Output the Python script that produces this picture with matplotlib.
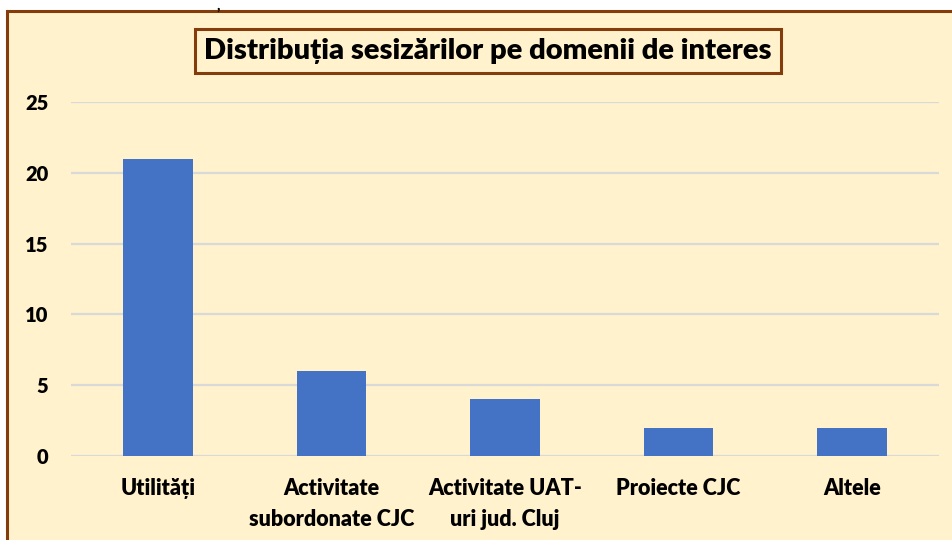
import numpy as np
import matplotlib.pyplot as plt
import matplotlib.patches as patches

# data
categories = ['Utilități', 'Activitate\nsubordonate CJC', 'Activitate UAT-\nuri jud. Cluj',
              'Proiecte CJC', 'Altele']
values = [21, 6, 4, 2, 2]
yticks = [0, 5, 10, 15, 20, 25]

plt.rcParams['font.family'] = ['Lato', 'DejaVu Sans']

W, H = 953, 540
fig = plt.figure(figsize=(W / 100, H / 100), dpi=100, facecolor='white')

# cream panel with brown frame (runs off the right and bottom edges)
panel = patches.Rectangle((7 / W, -0.05), 1.1, 1 - 11 / H + 0.05, transform=fig.transFigure,
                          facecolor='#FFF2CC', edgecolor='#843C0C', linewidth=2.2, zorder=-1)
fig.patches.append(panel)

# stray mark above the frame
fig.text(218 / W, 1 - 6 / H, ',', ha='center', va='center', fontsize=11, fontweight='bold')

ax = fig.add_axes([71.25 / W, 1 - 456 / H, (938.75 - 71.25) / W, (456 - 102) / H])
ax.set_facecolor('none')

x = np.arange(len(categories))
ax.bar(x, values, width=0.4, color='#4472C4', zorder=3)

ax.set_ylim(0, 25)
ax.set_xlim(-0.5, len(categories) - 0.5)
ax.set_yticks(yticks)
ax.set_yticklabels([str(v) for v in yticks], fontsize=14.5, fontweight='heavy')
ax.set_xticks(x)
ax.set_xticklabels(categories, fontsize=15.5, fontweight='heavy', linespacing=1.55)
ax.tick_params(axis='both', length=0)
ax.tick_params(axis='y', pad=16.5)
ax.tick_params(axis='x', pad=16)
for s in ax.spines.values():
    s.set_visible(False)
ax.grid(axis='y', color='#D9D9D9', linewidth=1.6, zorder=0)

fig.text(488 / W, 1 - 51 / H, 'Distribuția sesizărilor pe domenii de interes',
         ha='center', va='center', fontsize=21, fontweight='heavy',
         bbox=dict(boxstyle='square,pad=0.32', facecolor='#FFF2CC', edgecolor='#843C0C', linewidth=2.2))

fig.savefig('out.png', dpi=100)
